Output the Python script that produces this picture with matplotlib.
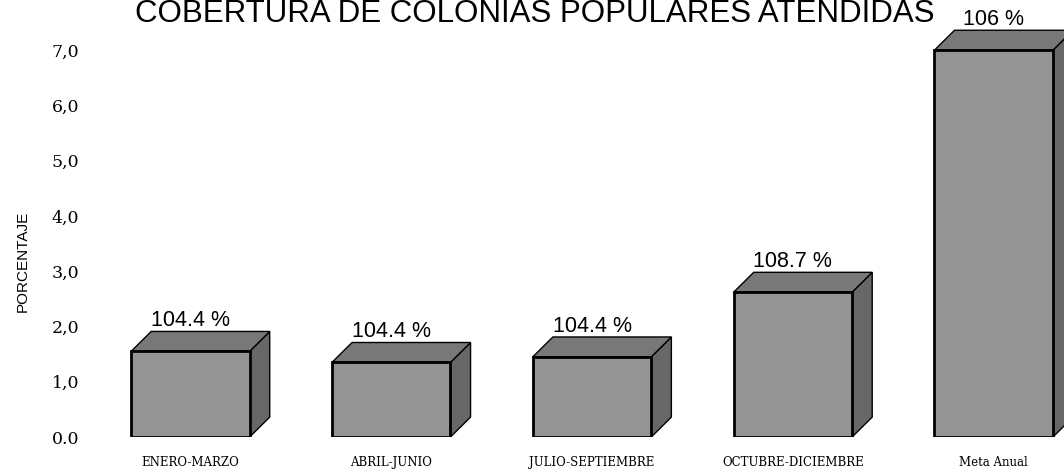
import numpy as np
import matplotlib
matplotlib.use("Agg")
import matplotlib.pyplot as plt
from matplotlib.patches import Polygon

# data
categories = ["ENERO-MARZO", "ABRIL-JUNIO", "JULIO-SEPTIEMBRE", "OCTUBRE-DICIEMBRE", "Meta Anual"]
values = [1.55, 1.35, 1.45, 2.62, 7.0]
value_labels = ["104.4 %", "104.4 %", "104.4 %", "108.7 %", "106 %"]
yticks = [0, 1, 2, 3, 4, 5, 6, 7]
ytick_labels = ["0.0", "1,0", "2,0", "3,0", "4,0", "5,0", "6,0", "7,0"]

front_col = "#949494"
top_col = "#787878"
side_col = "#676767"

fig = plt.figure(figsize=(10.64, 4.75), dpi=100)
ax = fig.add_axes([0.094, 0.08, 0.906, 0.861])
ax.set_xlim(-0.45, 4.35)
ax.set_ylim(0, 7.4)

x = np.arange(len(categories))
width = 0.59
dx, dy = 0.1, 0.36  # fake 3d depth

# side and top faces first, front face over them
for xi, v in zip(x, values):
    x0 = xi - width / 2
    x1 = xi + width / 2
    top = Polygon([(x0, v), (x0 + dx, v + dy), (x1 + dx, v + dy), (x1, v)],
                  closed=True, facecolor=top_col, edgecolor="black", lw=1.0, zorder=2)
    side = Polygon([(x1, 0), (x1 + dx, dy), (x1 + dx, v + dy), (x1, v)],
                   closed=True, facecolor=side_col, edgecolor="black", lw=1.0, zorder=2)
    ax.add_patch(side)
    ax.add_patch(top)

ax.bar(x, values, width=width, color=front_col, edgecolor="black", linewidth=2.0, zorder=3)

for xi, v, lab in zip(x, values, value_labels):
    ax.text(xi, v + dy + 0.0, lab, ha="center", va="bottom", fontsize=15.5,
            family="Liberation Sans", zorder=4)

for s in ax.spines.values():
    s.set_visible(False)

ax.set_yticks(yticks)
ax.set_yticklabels(ytick_labels, family="DejaVu Serif", fontsize=12.5)
ax.set_xticks(x)
ax.set_xticklabels(categories, family="DejaVu Serif", fontsize=8.5)
ax.tick_params(axis="y", length=0, pad=15)
ax.tick_params(axis="x", length=0, pad=14)

fig.text(0.015, 0.45, "PORCENTAJE", rotation=90, ha="left", va="center",
         fontsize=11, family="Liberation Sans")
fig.text(0.503, 0.953, "COBERTURA DE COLONIAS POPULARES ATENDIDAS", ha="center",
         va="baseline", fontsize=22.5, family="Liberation Sans")

fig.savefig("out.png", dpi=100)
